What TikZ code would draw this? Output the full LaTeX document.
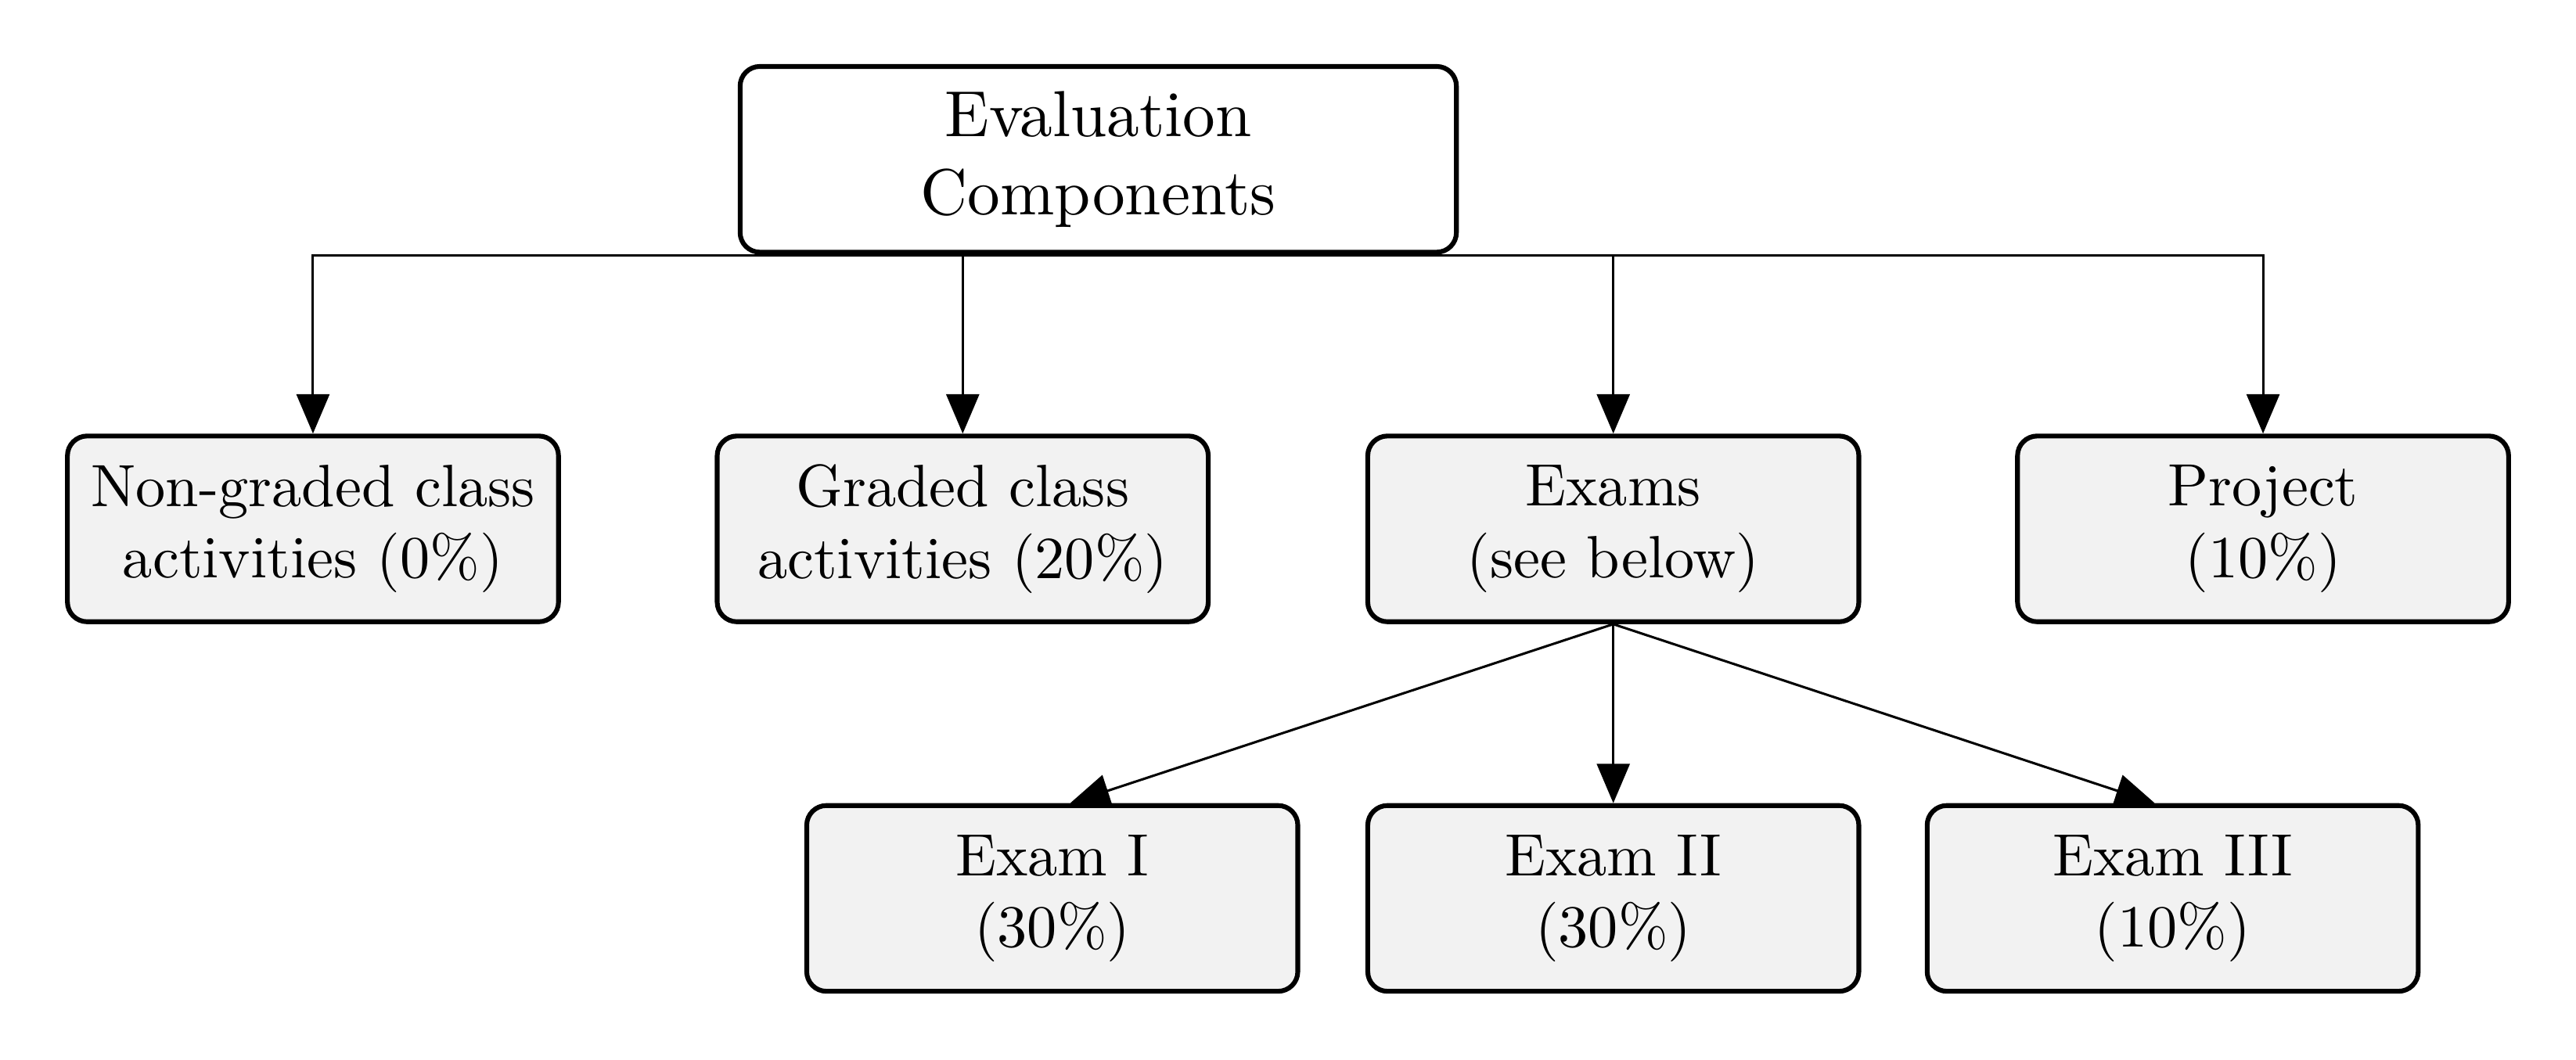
\documentclass[tikz,border=0pt]{standalone}
\usetikzlibrary{arrows.meta}
\definecolor{boxfill}{RGB}{242,242,242}
\tikzset{
  box/.style={draw=black, line width=0.8pt, rounded corners=3.3pt, fill=boxfill,
    minimum width=82.2pt, minimum height=31.1pt, inner sep=0pt, align=center},
  topbox/.style={box, fill=white, minimum width=119.9pt,
    font=\fontsize{10.9pt}{13.2pt}\selectfont},
  conn/.style={line width=0.4pt, -{Triangle[length=6.6pt,width=5.5pt]}}
}
\begin{document}
\begin{tikzpicture}[x=0.275pt,y=-0.275pt]
\path[use as bounding box, fill=white] (0,0) rectangle (1568,645);
\node[topbox] (top) at (668.5,97) {Evaluation\\Components};
\node[box] (ng) at (190.5,322) {Non-graded class\\activities (0\%)};
\node[box] (gr) at (586,322) {Graded class\\activities (20\%)};
\node[box] (ex) at (982,322) {Exams\\(see below)};
\node[box] (pr) at (1377.5,322) {Project\\(10\%)};
\node[box] (e1) at (640.5,547) {Exam I\\(30\%)};
\node[box] (e2) at (982,547) {Exam II\\(30\%)};
\node[box] (e3) at (1322.5,547) {Exam III\\(10\%)};
\foreach \t in {ng,gr,ex,pr}
  \draw[conn] ([yshift=-0.2pt]top.south) -| (\t.north);
\draw[conn] (ex.south) -- ([xshift=3pt]e1.north);
\draw[conn] (ex.south) -- (e2.north);
\draw[conn] (ex.south) -- ([xshift=-3pt]e3.north);
\end{tikzpicture}
\end{document}
